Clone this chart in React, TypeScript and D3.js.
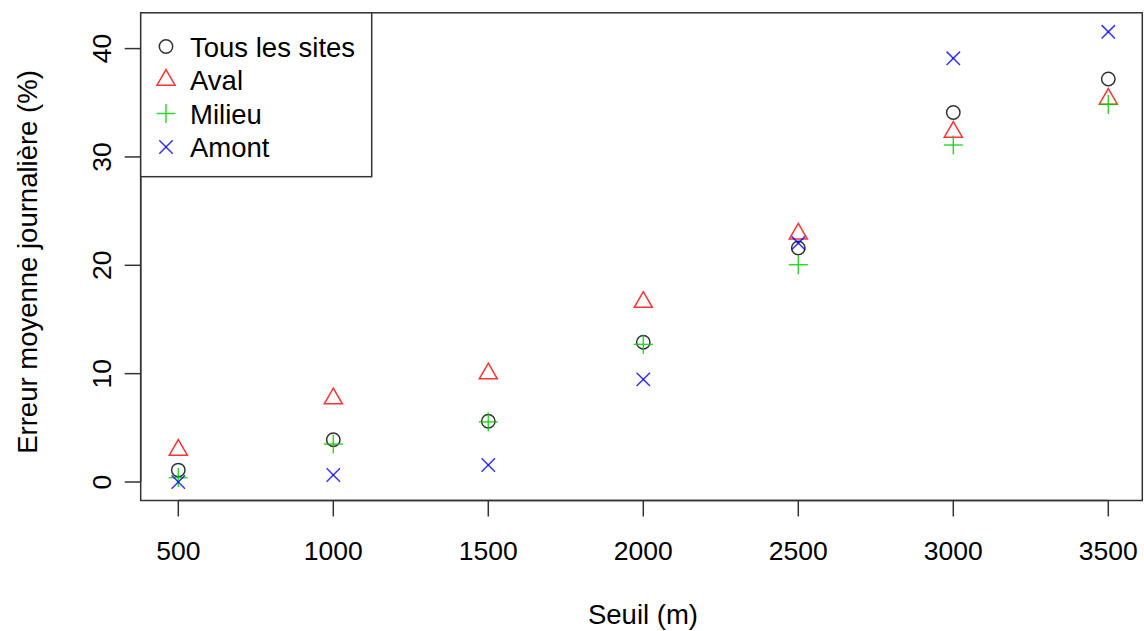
import React from "react";
import * as d3 from "d3";

const seuils = [500, 1000, 1500, 2000, 2500, 3000, 3500];
const tousLesSites = [1.1, 3.9, 5.6, 12.9, 21.6, 34.1, 37.2];
const aval = [2.95, 7.7, 10.0, 16.6, 22.9, 32.3, 35.35];
const milieu = [0.4, 3.5, 5.55, 12.7, 20.05, 31.1, 34.85];
const amont = [0.0, 0.65, 1.57, 9.47, 22.05, 39.1, 41.55];
const yTicks = [0, 10, 20, 30, 40];
const seriesNames = ["Tous les sites", "Aval", "Milieu", "Amont"];

const W = 1144;
const H = 631;
const FONT = "'Liberation Sans', Arial, Helvetica, sans-serif";
const FS = 26.5;
const FS_LAB = 27.5;
const R = 6.7;

const box = { left: 140.7, right: 1142.3, top: 12.8, bottom: 500.5 };

const xScale = d3.scaleLinear().domain([500, 3500]).range([178.3, 1108.3]);
const yScale = d3.scaleLinear().domain([0, 40]).range([482, 48.6]);

type Shape = "circle" | "triangle" | "plus" | "cross";

function Marker({ shape, x, y, color }: { shape: Shape; x: number; y: number; color: string }) {
  const sw = 1.5;
  const op = 0.8;
  if (shape === "circle") {
    return <circle cx={x} cy={y} r={R} fill="none" stroke={color} strokeWidth={sw} strokeOpacity={op} />;
  }
  if (shape === "triangle") {
    const r = 1.555 * R;
    const yc = 0.778 * R;
    const xc = 1.347 * R;
    const pts = `${x},${y - r} ${x + xc},${y + yc} ${x - xc},${y + yc}`;
    return <polygon points={pts} fill="none" stroke={color} strokeWidth={sw} strokeOpacity={op} />;
  }
  if (shape === "plus") {
    const a = Math.SQRT2 * R;
    return (
      <g stroke={color} strokeWidth={sw} strokeOpacity={op}>
        <line x1={x - a} y1={y} x2={x + a} y2={y} />
        <line x1={x} y1={y - a} x2={x} y2={y + a} />
      </g>
    );
  }
  const a = R;
  return (
    <g stroke={color} strokeWidth={sw} strokeOpacity={op}>
      <line x1={x - a} y1={y - a} x2={x + a} y2={y + a} />
      <line x1={x - a} y1={y + a} x2={x + a} y2={y - a} />
    </g>
  );
}

const series: { name: string; values: number[]; shape: Shape; color: string }[] = [
  { name: seriesNames[0], values: tousLesSites, shape: "circle", color: "#000000" },
  { name: seriesNames[1], values: aval, shape: "triangle", color: "#FF0000" },
  { name: seriesNames[2], values: milieu, shape: "plus", color: "#00CD00" },
  { name: seriesNames[3], values: amont, shape: "cross", color: "#0000FF" },
];

export default function App() {
  const axisColor = "#333";
  return (
    <svg
      width={W}
      height={H}
      style={{ position: "absolute", left: 0, top: 0, background: "#fff" }}
      fontFamily={FONT}
    >
      <rect x={0} y={0} width={W} height={H} fill="#fff" />
      {series.map((s) =>
        s.values.map((v, i) => (
          <Marker key={s.name + i} shape={s.shape} x={xScale(seuils[i])} y={yScale(v)} color={s.color} />
        ))
      )}
      <rect
        x={box.left}
        y={box.top}
        width={box.right - box.left}
        height={box.bottom - box.top}
        fill="none"
        stroke={axisColor}
        strokeWidth={1.5}
      />
      <line x1={xScale(500)} x2={xScale(3500)} y1={box.bottom} y2={box.bottom} stroke={axisColor} strokeWidth={1.5} />
      {seuils.map((t) => (
        <g key={"xt" + t}>
          <line x1={xScale(t)} x2={xScale(t)} y1={box.bottom} y2={box.bottom + 16} stroke={axisColor} strokeWidth={1.5} />
          <text x={xScale(t)} y={560} textAnchor="middle" fontSize={FS} fill="#000">
            {t}
          </text>
        </g>
      ))}
      <line x1={box.left} x2={box.left} y1={yScale(0)} y2={yScale(40)} stroke={axisColor} strokeWidth={1.5} />
      {yTicks.map((t) => (
        <g key={"yt" + t}>
          <line x1={box.left - 16} x2={box.left} y1={yScale(t)} y2={yScale(t)} stroke={axisColor} strokeWidth={1.5} />
          <text
            transform={`translate(${111},${yScale(t)}) rotate(-90)`}
            textAnchor="middle"
            fontSize={FS}
            fill="#000"
          >
            {t}
          </text>
        </g>
      ))}
      <text x={643} y={624} textAnchor="middle" fontSize={FS_LAB} fill="#000">
        Seuil (m)
      </text>
      <text
        transform={`translate(${37},${262}) rotate(-90)`}
        textAnchor="middle"
        fontSize={FS_LAB}
        fill="#000"
      >
        Erreur moyenne journalière (%)
      </text>
      <rect x={box.left} y={box.top} width={371.7 - box.left} height={176.7 - box.top} fill="#fff" stroke={axisColor} strokeWidth={1.5} />
      {series.map((s, i) => {
        const cy = 46.5 + i * 33.5;
        return (
          <g key={"lg" + s.name}>
            <Marker shape={s.shape} x={166} y={cy} color={s.color} />
            <text x={190} y={cy + 10} fontSize={FS_LAB} fill="#000">
              {s.name}
            </text>
          </g>
        );
      })}
    </svg>
  );
}
